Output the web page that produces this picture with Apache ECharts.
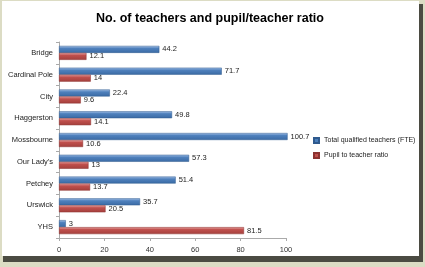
<!DOCTYPE html>
<html><head><meta charset="utf-8">
<script src="https://cdn.jsdelivr.net/npm/echarts@6/dist/echarts.min.js"></script>
<style>html,body{margin:0;padding:0;background:#dcdcc4;}#c{width:425px;height:267px;}</style>
</head><body><div id="c"></div>
<script>
const categories = ["Bridge","Cardinal Pole","City","Haggerston","Mossbourne","Our Lady's","Petchey","Urswick","YHS"];
const teachers = [44.2,71.7,22.4,49.8,100.7,57.3,51.4,35.7,3];
const ratio = [12.1,14,9.6,14.1,10.6,13,13.7,20.5,81.5];
const xTicks = [0,20,40,60,80,100];
const seriesNames = ["Total qualified teachers (FTE)","Pupil to teacher ratio"];

const chart = echarts.init(document.getElementById('c'));
const font = "'Liberation Sans', Arial, sans-serif";
function grad(top, mid, bot){
  return new echarts.graphic.LinearGradient(0,0,0,1,[{offset:0,color:top},{offset:0.35,color:mid},{offset:1,color:bot}]);
}
chart.setOption({
  animation:false,
  backgroundColor:'#dcdcc4',
  graphic:[
    {type:'rect',z:-10,shape:{x:3,y:4,width:420,height:258},style:{fill:'#4b4b42'}},
    {type:'rect',z:-9,shape:{x:2,y:1,width:417,height:255},style:{fill:'#ffffff'}}
  ],
  title:{text:'No. of teachers and pupil/teacher ratio',left:205,textAlign:'center',top:7,
    textStyle:{fontFamily:font,fontWeight:'bold',fontSize:12.5,color:'#000'}},
  legend:{orient:'vertical',left:308,top:132,itemWidth:5,itemHeight:5,itemGap:8,
    textStyle:{fontFamily:font,fontSize:7,color:'#222'},
    data:seriesNames.map((n,i)=>({name:n,icon:'rect',itemStyle:{color:i?'#c0504d':'#4a7ebb'}}))},
  grid:{left:59,top:42,width:227,height:196},
  xAxis:{type:'value',min:0,max:100,interval:20,
    axisLine:{show:true,lineStyle:{color:'#aaa'}},axisTick:{show:true,length:3,lineStyle:{color:'#aaa'}},
    splitLine:{show:false},
    axisLabel:{fontFamily:font,fontSize:7.5,color:'#333',margin:8,
      formatter:v=>xTicks.includes(v)?String(v):''}},
  yAxis:{type:'category',data:categories,inverse:true,
    axisLine:{show:true,onZero:false,lineStyle:{color:'#aaa'}},axisTick:{show:true,length:3,lineStyle:{color:'#aaa'}},
    axisLabel:{fontFamily:font,fontSize:7.5,color:'#222',margin:6}},
  series:[
    {name:seriesNames[0],type:'bar',data:teachers,barWidth:7,barGap:'0%',clip:false,
     itemStyle:{color:grad('#a9c4ea','#4f81bd','#3a6aa4'),borderColor:'#2f5a8e',borderWidth:0.5},
     label:{show:true,position:'right',distance:3,fontFamily:font,fontSize:7.5,color:'#222'}},
    {name:seriesNames[1],type:'bar',data:ratio,barWidth:7,clip:false,
     itemStyle:{color:grad('#eaa9a8','#c0504d','#a33f3c'),borderColor:'#8c3331',borderWidth:0.5},
     label:{show:true,position:'right',distance:3,fontFamily:font,fontSize:7.5,color:'#222'}}
  ]
});
</script></body></html>
